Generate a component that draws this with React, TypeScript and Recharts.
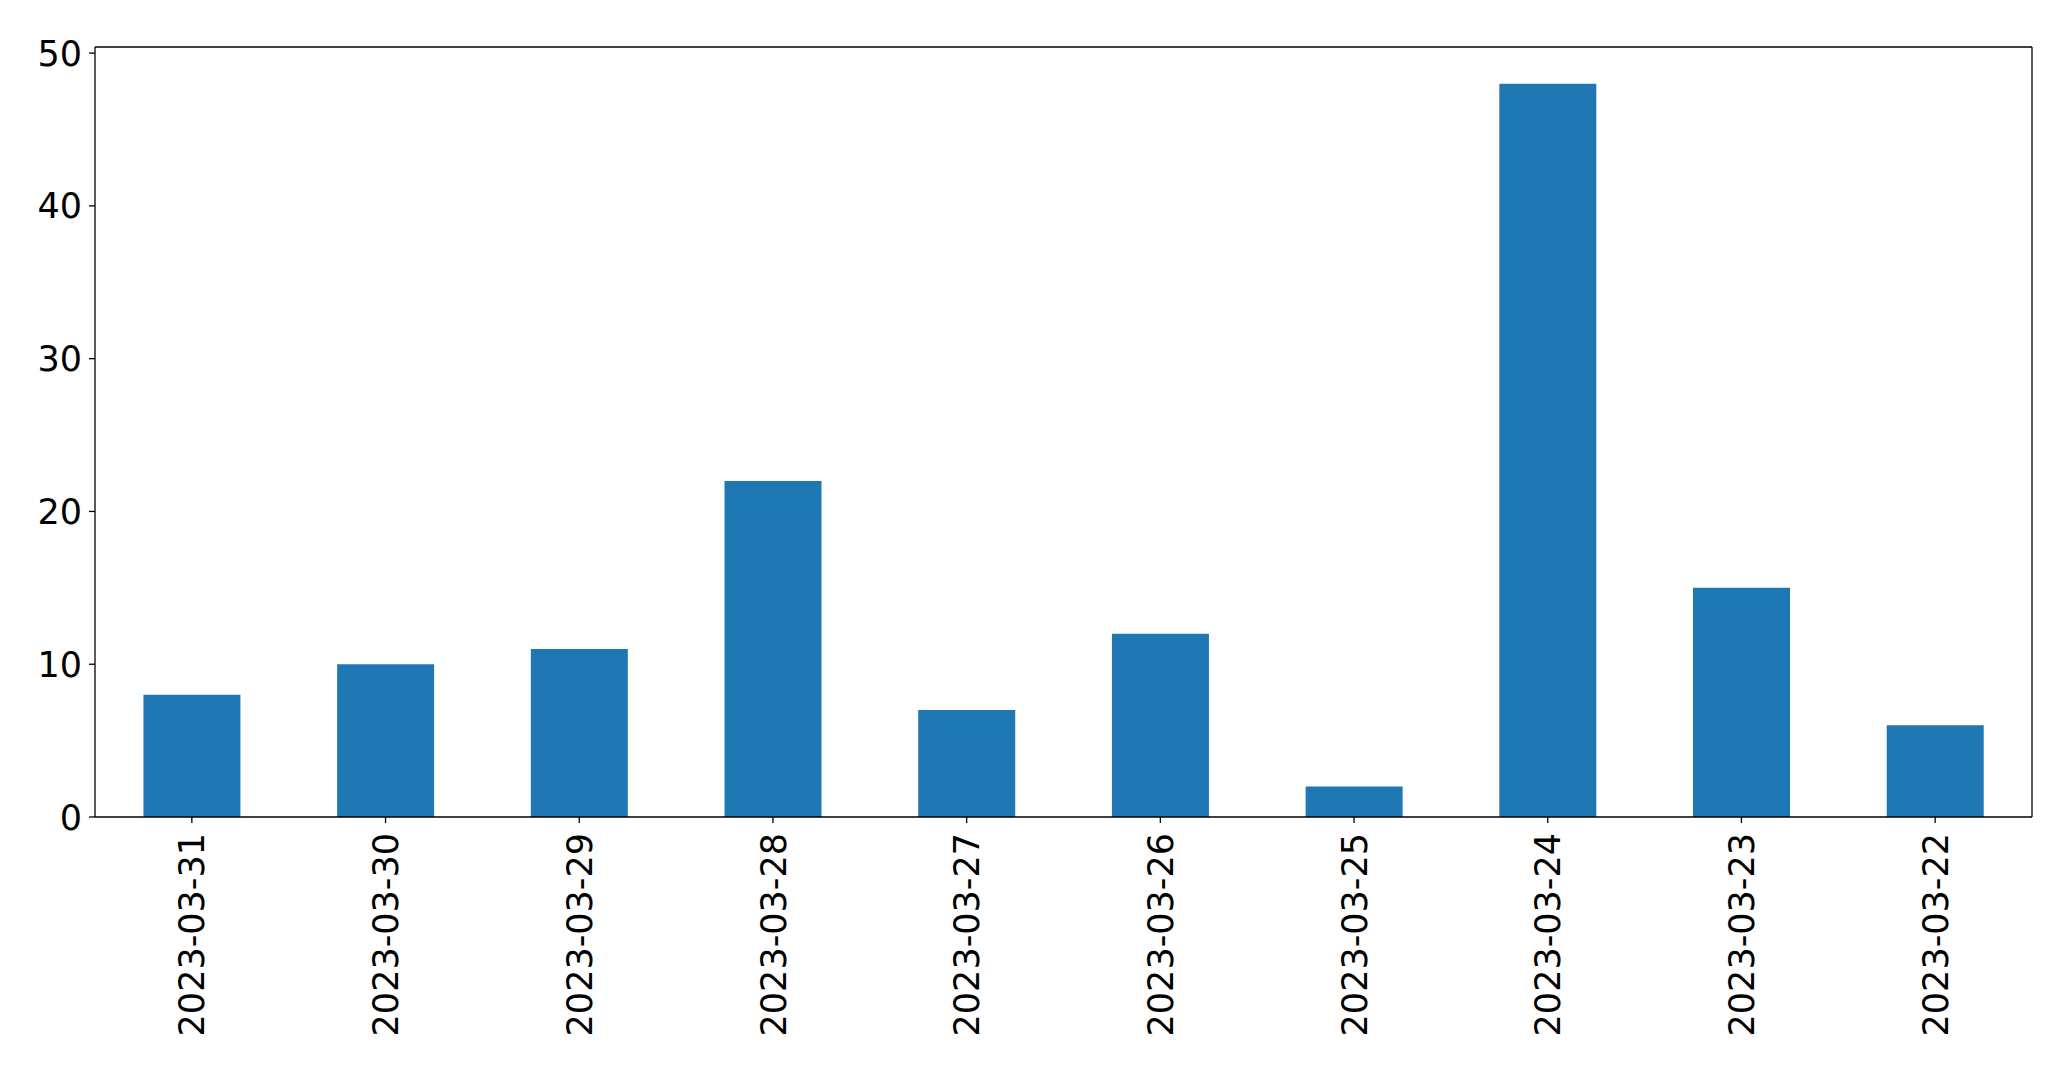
import React from 'react';
import { BarChart, Bar, XAxis, YAxis } from 'recharts';

const dates = [
  '2023-03-31',
  '2023-03-30',
  '2023-03-29',
  '2023-03-28',
  '2023-03-27',
  '2023-03-26',
  '2023-03-25',
  '2023-03-24',
  '2023-03-23',
  '2023-03-22',
];
const counts = [8, 10, 11, 22, 7, 12, 2, 48, 15, 6];
const yTicks = [0, 10, 20, 30, 40, 50];

const chartData = dates.map((d, i) => ({ date: d, count: counts[i] }));

const FONT = 'DejaVu Sans';

const DateTick = (props: any) => {
  const { x, y, payload } = props;
  return (
    <text
      x={x}
      y={y}
      dy="0.36em"
      textAnchor="end"
      transform={`rotate(-90, ${x}, ${y})`}
      fontFamily={FONT}
      fontSize={35}
      fill="#000"
    >
      {payload.value}
    </text>
  );
};

const CountTick = (props: any) => {
  const { x, y, payload } = props;
  return (
    <text x={x} y={y} dy="0.36em" textAnchor="end" fontFamily={FONT} fontSize={35} fill="#000">
      {payload.value}
    </text>
  );
};

const App = () => {
  return (
    <div style={{ position: 'absolute', left: 0, top: 0, background: '#fff' }}>
      <BarChart
        width={2071}
        height={1069}
        data={chartData}
        margin={{ top: 46, right: 38, bottom: 0, left: 0 }}
        barCategoryGap="25%"
      >
        <XAxis
          dataKey="date"
          height={252}
          interval={0}
          tick={<DateTick />}
          tickSize={6}
          tickMargin={10}
          axisLine={{ stroke: '#000', strokeWidth: 1.3 }}
          tickLine={{ stroke: '#000', strokeWidth: 1.3 }}
        />
        <XAxis
          xAxisId="top"
          dataKey="date"
          orientation="top"
          height={1}
          tick={false}
          tickLine={false}
          axisLine={{ stroke: '#000', strokeWidth: 1.3 }}
        />
        <YAxis
          width={95}
          domain={[0, 50.4]}
          ticks={yTicks}
          interval={0}
          allowDataOverflow
          tickSize={6}
          tickMargin={7}
          tick={<CountTick />}
          axisLine={{ stroke: '#000', strokeWidth: 1.3 }}
          tickLine={{ stroke: '#000', strokeWidth: 1.3 }}
        />
        <YAxis
          yAxisId="right"
          orientation="right"
          width={1}
          domain={[0, 50.4]}
          tick={false}
          tickLine={false}
          axisLine={{ stroke: '#000', strokeWidth: 1.3 }}
        />
        <Bar dataKey="count" fill="#1f77b4" isAnimationActive={false} />
      </BarChart>
    </div>
  );
};

export default App;
